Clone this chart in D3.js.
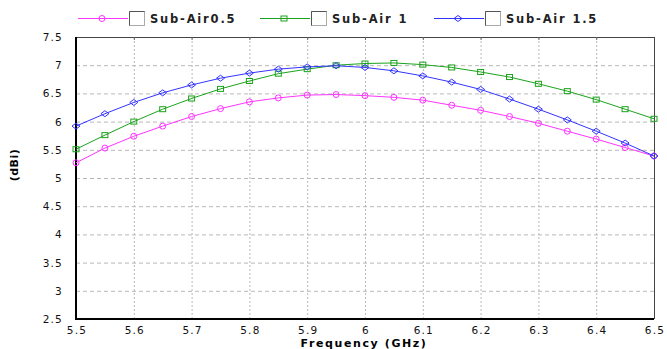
<!DOCTYPE html>
<html>
<head>
<meta charset="utf-8">
<script src="https://cdn.jsdelivr.net/npm/d3@7"></script>
<style>
  body { margin: 0; background: #fff; }
  svg { display: block; font-family: "DejaVu Sans", Verdana, sans-serif; }
</style>
</head>
<body>
<div id="vis"></div>
<script>
var width = 667;
var height = 349;
var margin = {top: 37, right: 13, bottom: 30, left: 76};

// frequency points (GHz)
var freqs = [5.5, 5.55, 5.6, 5.65, 5.7, 5.75, 5.8, 5.85, 5.9, 5.95, 6.0,
  6.05, 6.1, 6.15, 6.2, 6.25, 6.3, 6.35, 6.4, 6.45, 6.5];
var series_names = ["Sub-Air0.5", "Sub-Air 1", "Sub-Air 1.5"];
var series_colors = ["#ff33ff", "#1aa31a", "#3333ff"];
var series_markers = ["circle", "square", "diamond"];
var gain_air05 = [5.27, 5.53, 5.74, 5.92, 6.09, 6.23, 6.35, 6.42, 6.47, 6.48, 6.46,
  6.43, 6.38, 6.29, 6.20, 6.09, 5.97, 5.83, 5.69, 5.54, 5.39];
var gain_air1 = [5.51, 5.76, 6.00, 6.22, 6.41, 6.58, 6.72, 6.85, 6.93, 7.00, 7.03,
  7.04, 7.01, 6.96, 6.88, 6.79, 6.67, 6.54, 6.39, 6.22, 6.05];
var gain_air15 = [5.92, 6.14, 6.34, 6.51, 6.65, 6.77, 6.86, 6.93, 6.97, 6.99, 6.96,
  6.90, 6.81, 6.70, 6.57, 6.40, 6.22, 6.03, 5.83, 5.62, 5.39];
var x_ticks = [5.5, 5.6, 5.7, 5.8, 5.9, 6, 6.1, 6.2, 6.3, 6.4, 6.5];
var y_ticks = [2.5, 3, 3.5, 4, 4.5, 5, 5.5, 6, 6.5, 7, 7.5];

var all_series = [gain_air05, gain_air1, gain_air15];

var svg = d3.select("#vis").append("svg")
  .attr("width", width)
  .attr("height", height);

var x_scale = d3.scaleLinear()
  .domain([5.5, 6.5])
  .range([margin.left, width - margin.right]);
var y_scale = d3.scaleLinear()
  .domain([2.5, 7.5])
  .range([height - margin.bottom, margin.top]);

// grid
svg.append("g").selectAll("line")
  .data(y_ticks.slice(1, -1))
  .enter().append("line")
  .attr("x1", x_scale(5.5)).attr("x2", x_scale(6.5))
  .attr("y1", d => y_scale(d) + 0.5).attr("y2", d => y_scale(d) + 0.5)
  .attr("stroke", "#b8b8b8")
  .attr("stroke-dasharray", "4,3");
svg.append("g").selectAll("line")
  .data(x_ticks.slice(1, -1))
  .enter().append("line")
  .attr("x1", d => x_scale(d) + 0.5).attr("x2", d => x_scale(d) + 0.5)
  .attr("y1", y_scale(7.5)).attr("y2", y_scale(2.5))
  .attr("stroke", "#b8b8b8")
  .attr("stroke-dasharray", "2,2");

// frame
var x0 = x_scale(5.5), x1 = x_scale(6.5), y0 = y_scale(7.5), y1 = y_scale(2.5);
svg.append("line").attr("x1", x0).attr("x2", x1).attr("y1", y0 + 0.5).attr("y2", y0 + 0.5)
  .attr("stroke", "#444");
svg.append("line").attr("x1", x1 + 0.5).attr("x2", x1 + 0.5).attr("y1", y0).attr("y2", y1)
  .attr("stroke", "#444");
svg.append("line").attr("x1", x0).attr("x2", x1).attr("y1", y1).attr("y2", y1)
  .attr("stroke", "#000").attr("stroke-width", 2);
svg.append("line").attr("x1", x0).attr("x2", x0).attr("y1", y0).attr("y2", y1 + 1)
  .attr("stroke", "#000").attr("stroke-width", 2);
// small ticks on top border
svg.append("g").selectAll("line")
  .data(x_ticks.slice(1, -1))
  .enter().append("line")
  .attr("x1", d => x_scale(d) + 0.5).attr("x2", d => x_scale(d) + 0.5)
  .attr("y1", y0).attr("y2", y0 + 3)
  .attr("stroke", "#666");

// tick labels
svg.append("g").selectAll("text")
  .data(x_ticks)
  .enter().append("text")
  .attr("x", d => x_scale(d) + 1)
  .attr("y", height - 15)
  .attr("text-anchor", "middle")
  .attr("font-size", 10.5)
  .attr("letter-spacing", 1.2)
  .attr("fill", "#111")
  .text(d => d);
svg.append("g").selectAll("text")
  .data(y_ticks)
  .enter().append("text")
  .attr("x", 63)
  .attr("y", d => y_scale(d) + 4)
  .attr("text-anchor", "end")
  .attr("font-size", 10.5)
  .attr("letter-spacing", 1.2)
  .attr("fill", "#111")
  .text(d => d);

// axis titles
svg.append("text")
  .attr("x", 364)
  .attr("y", height - 2)
  .attr("text-anchor", "middle")
  .attr("font-size", 11)
  .attr("font-weight", "bold")
  .attr("letter-spacing", 1.6)
  .text("Frequency (GHz)");
svg.append("text")
  .attr("transform", "translate(18,165) rotate(-90)")
  .attr("text-anchor", "middle")
  .attr("font-size", 11)
  .attr("font-weight", "bold")
  .attr("letter-spacing", 0.5)
  .text("(dBi)");

function draw_marker(g, type, color, cx, cy){
  if (type === "circle") {
    g.append("circle").attr("cx", cx).attr("cy", cy).attr("r", 3)
      .attr("fill", "none").attr("stroke", color);
  } else if (type === "square") {
    g.append("rect").attr("x", cx - 3).attr("y", cy - 2.5).attr("width", 6).attr("height", 5)
      .attr("fill", "none").attr("stroke", color);
  } else {
    g.append("path")
      .attr("d", "M" + (cx - 4) + "," + cy + "L" + cx + "," + (cy - 3) + "L" + (cx + 4) + "," + cy + "L" + cx + "," + (cy + 3) + "Z")
      .attr("fill", "none").attr("stroke", color);
  }
}

var line_gen = d3.line()
  .x((d, i) => x_scale(freqs[i]))
  .y(d => y_scale(d));

all_series.forEach(function(values, k){
  var g = svg.append("g");
  g.append("path")
    .attr("d", line_gen(values))
    .attr("fill", "none")
    .attr("stroke", series_colors[k])
    .attr("stroke-width", 1);
  values.forEach(function(v, i){
    draw_marker(g, series_markers[k], series_colors[k], x_scale(freqs[i]), y_scale(v));
  });
});

// legend
var legend_x = [78, 260, 434];
var legend_y = 18;
series_names.forEach(function(name, k){
  var g = svg.append("g").attr("transform", "translate(" + legend_x[k] + "," + legend_y + ")");
  g.append("line").attr("x1", 0).attr("x2", 50).attr("y1", 0.5).attr("y2", 0.5)
    .attr("stroke", series_colors[k]);
  draw_marker(g, series_markers[k], series_colors[k], 24, 0.5);
  g.append("rect").attr("x", 51.5).attr("y", -6.5).attr("width", 15).attr("height", 14)
    .attr("fill", "#fff").attr("stroke", "#aaa");
  g.append("line").attr("x1", 51.5).attr("x2", 66.5).attr("y1", -6.5).attr("y2", -6.5).attr("stroke", "#555");
  g.append("line").attr("x1", 51.5).attr("x2", 51.5).attr("y1", -6.5).attr("y2", 7.5).attr("stroke", "#555");
  g.append("text")
    .attr("x", 72)
    .attr("y", 4.5)
    .attr("font-size", 11.5)
    .attr("font-weight", "bold")
    .attr("letter-spacing", 1.8)
    .attr("fill", "#222")
    .text(name);
});
</script>
</body>
</html>
